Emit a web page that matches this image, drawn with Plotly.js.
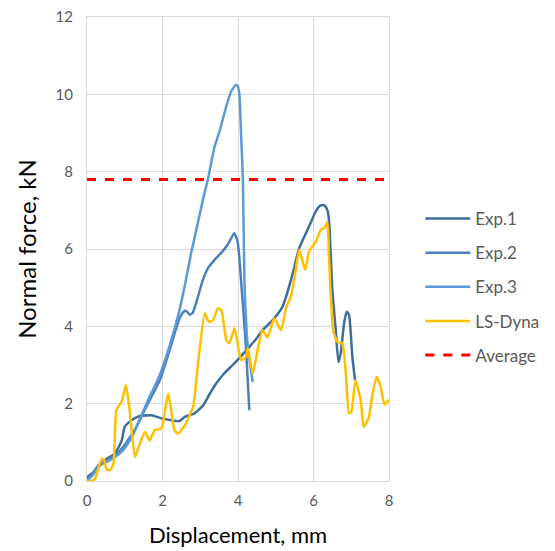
<!DOCTYPE html>
<html>
<head>
<meta charset="utf-8">
<script src="https://cdn.plot.ly/plotly-3.0.1.min.js"></script>
<style>html,body{margin:0;padding:0;background:#fff;}#chart{width:555px;height:551px;}</style>
</head>
<body>
<div id="chart"></div>
<script>
// Exp.1
const exp1X = [0,0.2,0.47,0.74,0.92,1.0,1.18,1.4,1.71,1.97,2.2,2.45,2.59,2.85,3.07,3.25,3.42,3.65,3.86,4.1,4.3,4.5,4.65,4.92,5.18,5.3,5.45,5.62,5.88,6.05,6.15,6.24,6.3,6.37,6.41,6.5,6.59,6.66,6.72,6.81,6.88,6.94,7.03,7.1];
const exp1Y = [0.1,0.25,0.54,0.71,1.05,1.4,1.57,1.68,1.7,1.62,1.58,1.55,1.66,1.75,1.95,2.25,2.52,2.8,3.0,3.25,3.47,3.7,3.9,4.16,4.51,4.85,5.37,6.02,6.58,6.95,7.1,7.14,7.12,7.0,6.75,4.94,3.9,3.08,3.3,4.08,4.38,4.3,3.21,2.61];
// Exp.2
const exp2X = [0,0.15,0.34,0.69,0.96,1.15,1.31,1.57,1.93,2.19,2.45,2.56,2.63,2.72,2.8,2.89,3.07,3.2,3.38,3.6,3.75,3.9,3.99,4.08,4.21,4.3];
const exp2Y = [0.05,0.2,0.45,0.62,0.88,1.15,1.4,1.92,2.61,3.39,4.2,4.38,4.4,4.3,4.35,4.6,5.2,5.5,5.72,5.95,6.15,6.41,6.19,5.2,3.47,1.83];
// Exp.3
const exp3X = [0,0.15,0.34,0.69,0.96,1.2,1.35,1.6,1.93,2.19,2.45,2.6,2.76,2.92,3.07,3.2,3.38,3.51,3.69,3.82,3.95,4.0,4.04,4.08,4.13,4.17,4.26,4.39];
const exp3Y = [0,0.15,0.4,0.58,0.8,1.15,1.5,2.05,2.75,3.5,4.42,5.1,5.9,6.6,7.27,7.79,8.65,9.04,9.69,10.08,10.25,10.2,9.95,9.0,7.79,5.2,3.47,2.56];
// LS-Dyna
const dynaX = [0,0.12,0.21,0.39,0.45,0.52,0.61,0.7,0.78,0.92,1.03,1.13,1.27,1.4,1.53,1.66,1.79,1.97,2.15,2.32,2.41,2.59,2.81,2.94,3.12,3.22,3.34,3.47,3.56,3.69,3.77,3.91,4.08,4.21,4.26,4.39,4.52,4.65,4.78,4.96,5.14,5.27,5.4,5.53,5.62,5.78,5.88,6.06,6.19,6.3,6.37,6.41,6.52,6.63,6.76,6.85,6.94,7.0,7.11,7.25,7.33,7.47,7.55,7.67,7.78,7.88,8.0];
const dynaY = [0,0,0.05,0.58,0.55,0.3,0.28,0.45,1.83,2.05,2.48,1.83,0.62,0.97,1.27,1.05,1.31,1.36,2.26,1.31,1.23,1.44,1.92,3.04,4.34,4.12,4.16,4.47,4.42,3.65,3.56,3.95,3.13,3.21,3.43,2.78,3.39,3.9,3.71,4.21,3.9,4.47,4.77,5.46,5.98,5.46,5.93,6.19,6.49,6.55,6.71,5.8,3.9,3.6,3.56,2.87,1.75,1.78,2.6,2.09,1.4,1.66,2.18,2.69,2.43,1.98,2.1];
// Average
const avgX = [0,8];
const avgY = [7.8,7.8];

const seriesNames = ['Exp.1','Exp.2','Exp.3','LS-Dyna','Average'];
const xTicks = [0,2,4,6,8];
const yTicks = [0,2,4,6,8,10,12];

const FONT = 'Lato, "Open Sans", sans-serif';
const sm = {shape:'spline', smoothing:0.5};
const traces = [
  {x:exp1X, y:exp1Y, name:seriesNames[0], mode:'lines', legendgroup:'a', line:Object.assign({color:'#3d6e9e', width:2.5}, sm)},
  {x:exp2X, y:exp2Y, name:seriesNames[1], mode:'lines', legendgroup:'b', line:Object.assign({color:'#4a80bd', width:2.5}, sm)},
  {x:exp3X, y:exp3Y, name:seriesNames[2], mode:'lines', legendgroup:'c', line:Object.assign({color:'#5b9bd5', width:2.5}, sm)},
  {x:dynaX, y:dynaY, name:seriesNames[3], mode:'lines', legendgroup:'d', line:Object.assign({color:'#ffc000', width:2.5}, sm)},
  {x:avgX, y:avgY, name:seriesNames[4], mode:'lines', legendgroup:'e', line:{color:'#ff0000', width:3, dash:'dash'}}
];

const layout = {
  width:555, height:551,
  margin:{l:87, r:165, t:17, b:70},
  paper_bgcolor:'#fff', plot_bgcolor:'#fff',
  font:{family:FONT, color:'#595959', size:15},
  showlegend:true,
  legend:{x:1.1, xanchor:'left', y:0.418, yanchor:'middle', traceorder:'grouped', tracegroupgap:9, itemwidth:45,
          font:{family:FONT, size:17, color:'#595959'}, bgcolor:'rgba(0,0,0,0)'},
  xaxis:{range:[0,8], tickvals:xTicks, ticktext:xTicks.map(String), showgrid:true, gridcolor:'#d9d9d9', gridwidth:1,
         showline:true, linecolor:'#d9d9d9', linewidth:1, mirror:true, zeroline:false, ticks:'', ticklabelstandoff:6,
         tickfont:{family:FONT, size:15, color:'#595959'},
         title:{text:'Displacement, mm', font:{family:FONT, size:22, color:'#000'}, standoff:19}},
  yaxis:{range:[0,12], tickvals:yTicks, ticktext:yTicks.map(String), showgrid:true, gridcolor:'#d9d9d9', gridwidth:1,
         showline:true, linecolor:'#d9d9d9', linewidth:1, mirror:true, zeroline:false, ticks:'', ticklabelstandoff:10,
         tickfont:{family:FONT, size:15, color:'#595959'},
         title:{text:'Normal force, kN', font:{family:FONT, size:24, color:'#000'}, standoff:12}}
};

Plotly.newPlot('chart', traces, layout, {displayModeBar:false, staticPlot:true});
</script>
</body>
</html>
